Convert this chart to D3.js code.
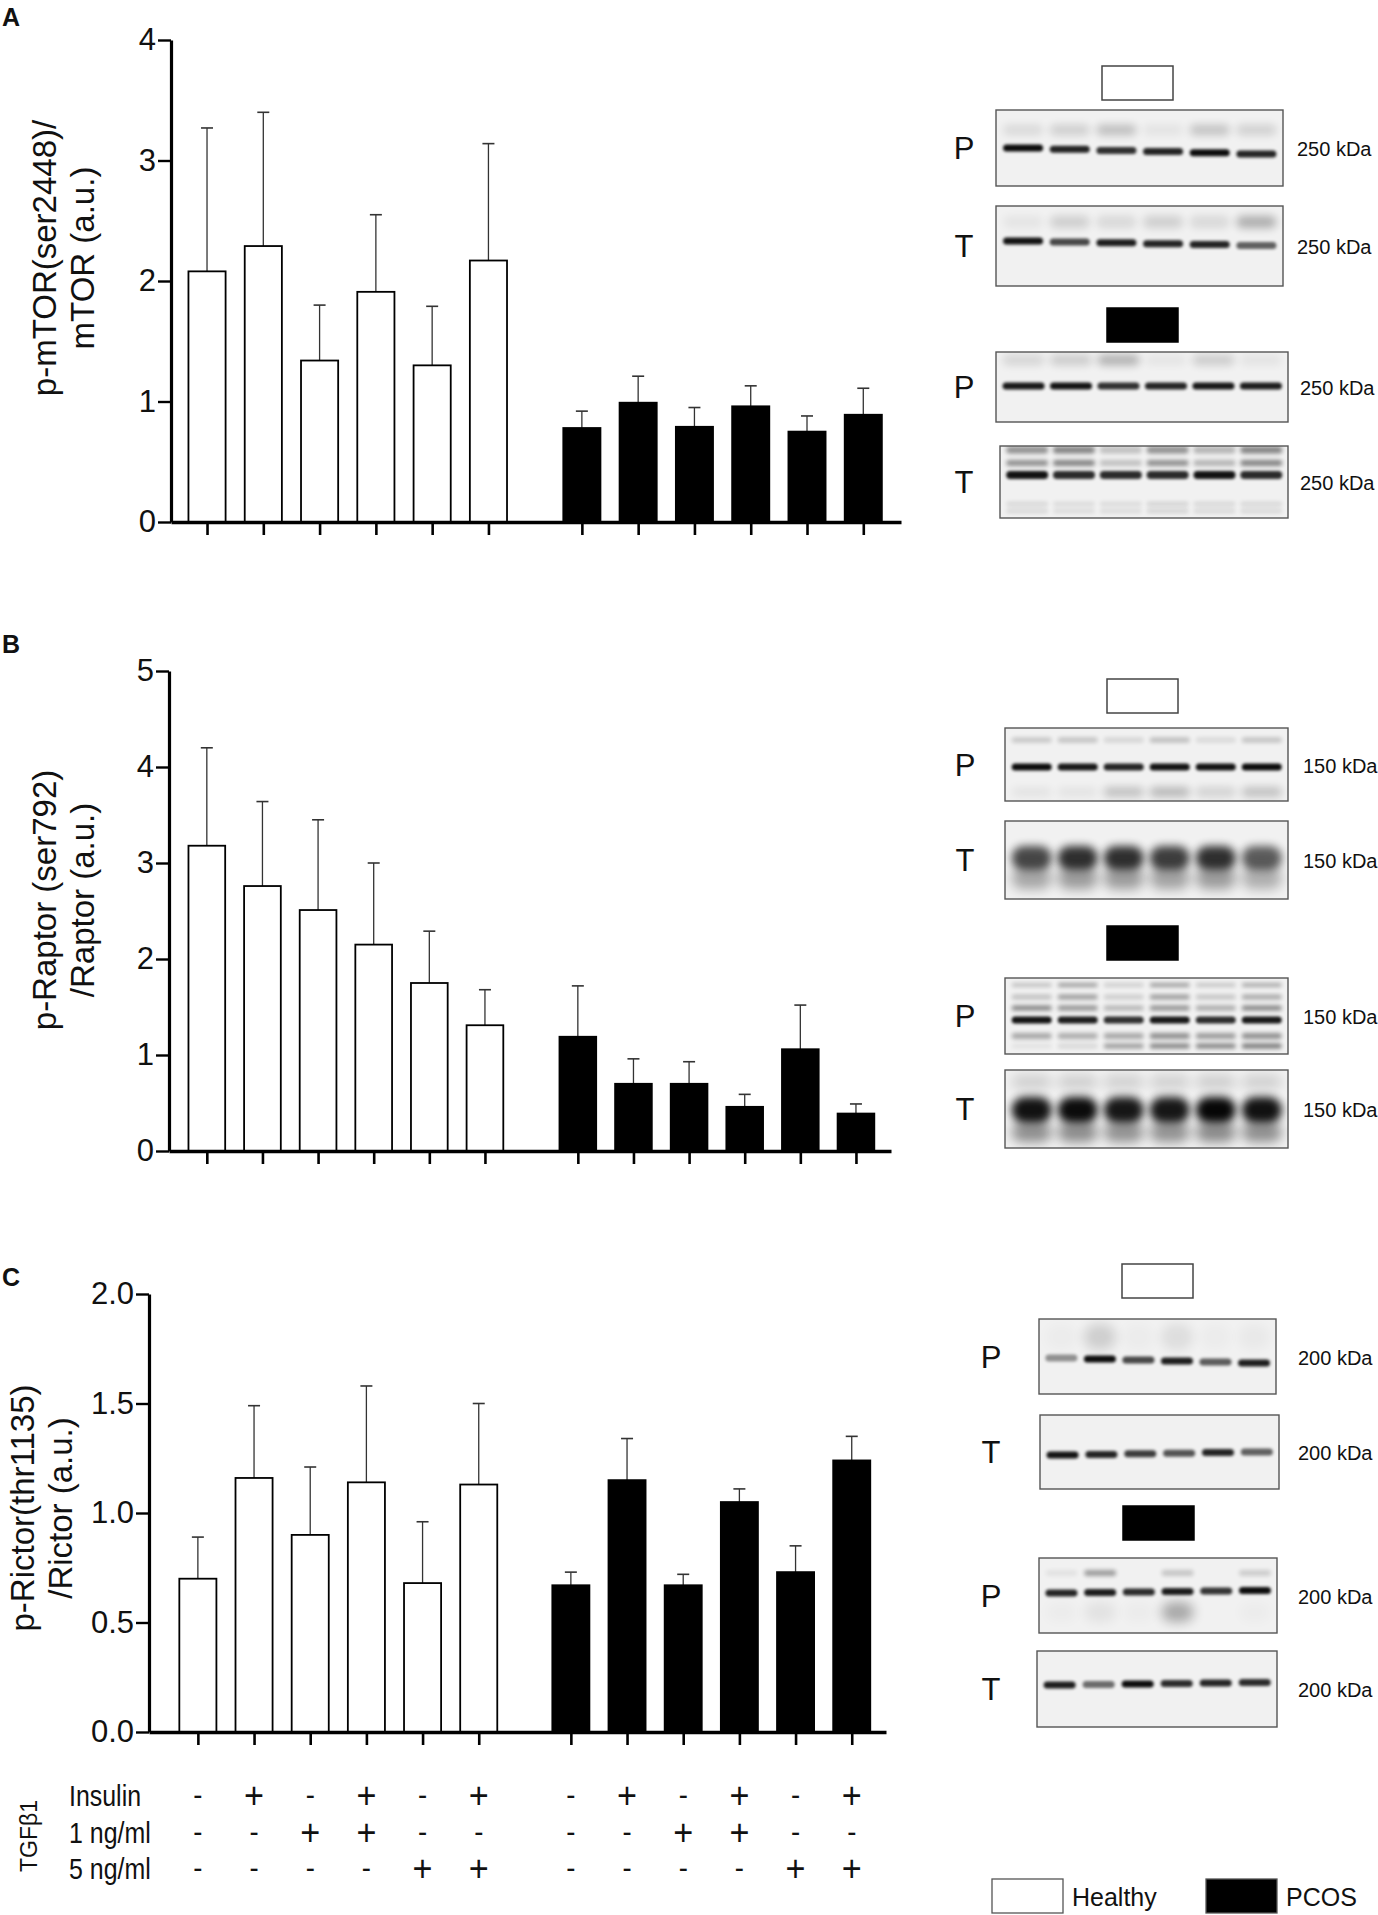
<!DOCTYPE html>
<html><head><meta charset="utf-8">
<script src="https://cdn.jsdelivr.net/npm/d3@7"></script>
<style>
body{margin:0;background:#fff}
text{font-family:"Liberation Sans",Arial,Helvetica,sans-serif;fill:#111}
</style>
</head><body><script>
// ---------------- DATA ----------------
const groups = ["Healthy","Healthy","Healthy","Healthy","Healthy","Healthy","PCOS","PCOS","PCOS","PCOS","PCOS","PCOS"];
const insulinRow = ["-","+","-","+","-","+","-","+","-","+","-","+"];
const tgf1Row    = ["-","-","+","+","-","-","-","-","+","+","-","-"];
const tgf5Row    = ["-","-","-","-","+","+","-","-","-","-","+","+"];
const rowLabels  = ["Insulin","1 ng/ml","5 ng/ml"];
const tgfLabel   = "TGFβ1";
const legendLabels = ["Healthy","PCOS"];

const mtorMean = [2.08, 2.29, 1.34, 1.91, 1.30, 2.17, 0.78, 0.99, 0.79, 0.96, 0.75, 0.89];
const mtorSem  = [1.19, 1.11, 0.46, 0.64, 0.49, 0.97, 0.14, 0.22, 0.16, 0.17, 0.13, 0.22];
const raptorMean = [3.18, 2.76, 2.51, 2.15, 1.75, 1.31, 1.19, 0.70, 0.70, 0.46, 1.06, 0.39];
const raptorSem  = [1.02, 0.88, 0.94, 0.85, 0.54, 0.37, 0.53, 0.26, 0.23, 0.13, 0.46, 0.10];
const rictorMean = [0.70, 1.16, 0.90, 1.14, 0.68, 1.13, 0.67, 1.15, 0.67, 1.05, 0.73, 1.24];
const rictorSem  = [0.19, 0.33, 0.31, 0.44, 0.28, 0.37, 0.06, 0.19, 0.05, 0.06, 0.12, 0.11];

const ticksA = [0,1,2,3,4];
const ticksB = [0,1,2,3,4,5];
const ticksC = [0,0.5,1.0,1.5,2.0];
const titleA = ["p-mTOR(ser2448)/","mTOR (a.u.)"];
const titleB = ["p-Raptor (ser792)","/Raptor (a.u.)"];
const titleC = ["p-Rictor(thr1135)","/Rictor (a.u.)"];
const kdaA = "250 kDa", kdaB = "150 kDa", kdaC = "200 kDa";

// western blot band intensities (per lane, 0..1)
const bandA_PH_main = [0.95,0.85,0.80,0.85,0.95,0.85];
const bandA_PH_up   = [0.10,0.15,0.22,0.06,0.20,0.14];
const bandA_TH_main = [0.92,0.70,0.88,0.85,0.85,0.60];
const bandA_TH_up   = [0.05,0.14,0.10,0.14,0.10,0.28];
const bandA_PP_main = [0.90,0.92,0.80,0.85,0.90,0.88];
const bandA_PP_up   = [0.12,0.16,0.28,0.05,0.16,0.06];
const bandA_TP_main = [0.92,0.82,0.82,0.82,0.92,0.82];
const bandA_TP_up   = [0.40,0.45,0.20,0.40,0.25,0.45];
const bandA_TP_low  = [0.12,0.10,0.10,0.14,0.12,0.12];

const bandB_PH_main = [0.95,0.90,0.85,0.92,0.92,0.95];
const bandB_PH_up   = [0.18,0.20,0.12,0.22,0.10,0.20];
const bandB_PH_low  = [0.06,0.06,0.22,0.26,0.14,0.22];
const bandB_TH_main = [0.70,0.80,0.80,0.74,0.80,0.62];
const bandB_PP_main = [0.92,0.88,0.80,0.90,0.82,0.90];
const bandB_PP_up1  = [0.45,0.40,0.25,0.40,0.30,0.45];
const bandB_PP_up2  = [0.20,0.35,0.15,0.35,0.18,0.30];
const bandB_PP_low1 = [0.30,0.28,0.30,0.40,0.35,0.40];
const bandB_PP_low2 = [0.06,0.10,0.35,0.45,0.45,0.50];
const bandB_TP_main = [0.92,0.95,0.90,0.90,0.97,0.92];

const bandC_PH_main = [0.40,0.95,0.70,0.88,0.62,0.88];
const bandC_TH_main = [0.92,0.85,0.75,0.65,0.85,0.60];
const bandC_PP_main = [0.85,0.88,0.82,0.88,0.78,0.95];
const bandC_PP_up   = [0.06,0.35,0.00,0.18,0.00,0.15];
const bandC_TP_main = [0.88,0.55,0.95,0.82,0.85,0.82];

// ---------------- LAYOUT ----------------
const W = 1378, H = 1915;
const svg = d3.select("body").append("svg").attr("width", W).attr("height", H);
const fillOf = g => g === "Healthy" ? "#ffffff" : "#000000";

const defs = svg.append("defs");
[1.4, 2.2, 4, 6].forEach((s, i) => {
  defs.append("filter").attr("id", "blur" + i).attr("x", "-30%").attr("y", "-100%")
    .attr("width", "160%").attr("height", "300%")
    .append("feGaussianBlur").attr("stdDeviation", s);
});

function drawPanel(cfg) {
  const g = svg.append("g");
  const x = d3.scaleLinear().domain([cfg.u0, cfg.u1]).range([cfg.x0, cfg.x1]);
  const y = d3.scaleLinear().domain([0, cfg.max]).range([cfg.yBase, cfg.yTop]);
  const pos = i => i < 6 ? i : i + cfg.gap;
  const bw = x(0.66) - x(0);
  const idx = d3.range(cfg.mean.length);

  // error bars
  g.selectAll("line.err").data(idx).join("line")
    .attr("x1", i => x(pos(i))).attr("x2", i => x(pos(i)))
    .attr("y1", i => y(cfg.mean[i])).attr("y2", i => y(cfg.mean[i] + cfg.sem[i]))
    .attr("stroke", "#333").attr("stroke-width", 1.3);
  g.selectAll("line.cap").data(idx).join("line")
    .attr("x1", i => x(pos(i)) - 6).attr("x2", i => x(pos(i)) + 6)
    .attr("y1", i => y(cfg.mean[i] + cfg.sem[i])).attr("y2", i => y(cfg.mean[i] + cfg.sem[i]))
    .attr("stroke", "#333").attr("stroke-width", 1.6);
  // bars
  g.selectAll("rect.bar").data(idx).join("rect")
    .attr("x", i => x(pos(i)) - bw / 2).attr("width", bw)
    .attr("y", i => y(cfg.mean[i])).attr("height", i => y(0) - y(cfg.mean[i]))
    .attr("fill", i => fillOf(groups[i])).attr("stroke", "#000").attr("stroke-width", 1.8);

  // y axis
  const ya = g.append("g").attr("transform", `translate(${cfg.x0},0)`)
    .call(d3.axisLeft(y).tickValues(cfg.ticks).tickFormat(cfg.fmt).tickSize(13).tickSizeOuter(0).tickPadding(2));
  ya.select(".domain").attr("stroke", "#000").attr("stroke-width", 3.2);
  ya.selectAll(".tick line").attr("stroke", "#000").attr("stroke-width", 2.4);
  ya.selectAll(".tick text").attr("font-size", 31).attr("fill", "#111")
    .attr("font-family", '"Liberation Sans",Arial,sans-serif');

  // x axis
  const xa = g.append("g").attr("transform", `translate(0,${cfg.yBase})`)
    .call(d3.axisBottom(x).tickValues(idx.map(pos)).tickFormat("").tickSize(13).tickSizeOuter(0));
  xa.select(".domain").attr("stroke", "#000").attr("stroke-width", 3.6);
  xa.selectAll(".tick line").attr("stroke", "#000").attr("stroke-width", 2.6);

  // title
  cfg.title.forEach((t, k) => {
    svg.append("text")
      .attr("transform", `translate(${cfg.titleX[k]},${cfg.titleY}) rotate(-90)`)
      .attr("text-anchor", "middle").attr("font-size", 33).text(t);
  });
  // panel letter
  svg.append("text").attr("x", 2).attr("y", cfg.letterY).attr("font-size", 25)
    .attr("font-weight", "bold").text(cfg.letter);
  return { x, pos };
}

const pA = drawPanel({ letter: "A", letterY: 26, mean: mtorMean, sem: mtorSem, max: 4, ticks: ticksA, fmt: d3.format("d"),
  x0: 171, x1: 901, u0: -0.64, u1: 12.33, gap: 0.66, yBase: 522, yTop: 40,
  title: titleA, titleX: [56, 94], titleY: 258 });
const pB = drawPanel({ letter: "B", letterY: 653, mean: raptorMean, sem: raptorSem, max: 5, ticks: ticksB, fmt: d3.format("d"),
  x0: 169, x1: 891, u0: -0.68, u1: 12.30, gap: 0.67, yBase: 1151, yTop: 671,
  title: titleB, titleX: [56, 94], titleY: 900 });
const pC = drawPanel({ letter: "C", letterY: 1286, mean: rictorMean, sem: rictorSem, max: 2, ticks: ticksC, fmt: d3.format(".1f"),
  x0: 149, x1: 886, u0: -0.87, u1: 12.25, gap: 0.64, yBase: 1732, yTop: 1294,
  title: titleC, titleX: [34, 72], titleY: 1508 });

// condition table under panel C
const rowsY = [1796, 1833, 1869];
[insulinRow, tgf1Row, tgf5Row].forEach((row, r) => {
  svg.append("text").attr("transform", `translate(69,${rowsY[r] + 10}) scale(0.86,1)`)
    .attr("font-size", 29).text(rowLabels[r]);
  svg.selectAll(null).data(row).join("text")
    .attr("transform", (d, i) => `translate(${pC.x(pC.pos(i))},${rowsY[r] + (d === "+" ? 12 : 9)}) scale(0.95,1)`)
    .attr("text-anchor", "middle").attr("font-size", d => d === "+" ? 36 : 29).text(d => d);
});
svg.append("text").attr("transform", "translate(37,1836) rotate(-90)").attr("text-anchor", "middle")
  .attr("font-size", 23).text(tgfLabel);

// legend
const legX = [992, 1206];
legendLabels.forEach((l, k) => {
  svg.append("rect").attr("x", legX[k]).attr("y", 1879).attr("width", 71).attr("height", 34)
    .attr("fill", fillOf(l)).attr("stroke", "#555").attr("stroke-width", 1.3);
  svg.append("text").attr("x", legX[k] + 80).attr("y", 1906).attr("font-size", 25).text(l);
});

// ---------------- BLOTS ----------------
let clipN = 0;
function gel(box, label, labelX, kda, kdaX, bands, laneW) {
  const [bx, by, bw, bh] = box;
  const id = "clip" + (clipN++);
  defs.append("clipPath").attr("id", id).append("rect").attr("x", bx).attr("y", by).attr("width", bw).attr("height", bh);
  const g = svg.append("g");
  g.append("rect").attr("x", bx).attr("y", by).attr("width", bw).attr("height", bh).attr("fill", "#f1f1f1");
  const inner = g.append("g").attr("clip-path", `url(#${id})`);
  const sp = bw / 6.15;
  const lanes = d3.range(6).map(k => bx + sp * 0.08 + (k + 0.5) * sp);
  bands.forEach(b => {
    inner.selectAll(null).data(b.k).join("rect")
      .attr("x", (d, k) => lanes[k] - laneW / 2).attr("width", laneW)
      .attr("y", (d, k) => b.cy + (b.slope || 0) * k - b.h / 2).attr("height", b.h)
      .attr("rx", b.h / 2)
      .attr("fill", "#000").attr("opacity", d => d)
      .attr("filter", `url(#blur${b.blur || 0})`);
  });
  g.append("rect").attr("x", bx).attr("y", by).attr("width", bw).attr("height", bh)
    .attr("fill", "none").attr("stroke", "#555").attr("stroke-width", 1.4);
  svg.append("text").attr("x", labelX).attr("y", by + bh / 2 + 11).attr("text-anchor", "middle")
    .attr("font-size", 31).text(label);
  svg.append("text").attr("x", kdaX).attr("y", by + bh / 2 + 8).attr("font-size", 20).text(kda);
}
function marker(x, y, fill) {
  svg.append("rect").attr("x", x).attr("y", y).attr("width", 71).attr("height", 34)
    .attr("fill", fill).attr("stroke", fill === "#000000" ? "#000" : "#444").attr("stroke-width", 1.5);
}

// Panel A blots
marker(1102, 66, fillOf("Healthy"));
gel([996, 110, 287, 76], "P", 964, kdaA, 1297, [
  { cy: 130, h: 10, k: bandA_PH_up, blur: 2 },
  { cy: 148, h: 7, k: bandA_PH_main, blur: 0, slope: 1.2 }], 40);
gel([996, 206, 287, 80], "T", 964, kdaA, 1297, [
  { cy: 222, h: 12, k: bandA_TH_up, blur: 2 },
  { cy: 241, h: 7, k: bandA_TH_main, blur: 0, slope: 0.9 }], 40);
marker(1107, 308, fillOf("PCOS"));
gel([996, 352, 292, 70], "P", 964, kdaA, 1300, [
  { cy: 360, h: 10, k: bandA_PP_up, blur: 2 },
  { cy: 386, h: 7, k: bandA_PP_main, blur: 0 }], 42);
gel([1000, 446, 288, 72], "T", 964, kdaA, 1300, [
  { cy: 450, h: 7, k: bandA_TP_up, blur: 1 },
  { cy: 463, h: 6, k: bandA_TP_up, blur: 1 },
  { cy: 475, h: 8, k: bandA_TP_main, blur: 0 },
  { cy: 504, h: 4, k: bandA_TP_low, blur: 1 },
  { cy: 511, h: 4, k: bandA_TP_low, blur: 1 }], 42);

// Panel B blots
marker(1107, 679, fillOf("Healthy"));
gel([1005, 728, 283, 73], "P", 965, kdaB, 1303, [
  { cy: 740, h: 5, k: bandB_PH_up, blur: 1 },
  { cy: 767, h: 7, k: bandB_PH_main, blur: 0 },
  { cy: 792, h: 9, k: bandB_PH_low, blur: 2 }], 40);
gel([1005, 821, 283, 78], "T", 965, kdaB, 1303, [
  { cy: 858, h: 24, k: bandB_TH_main, blur: 2 },
  { cy: 878, h: 22, k: bandB_TH_main.map(v => v * 0.45), blur: 3 }], 40);
marker(1107, 926, fillOf("PCOS"));
gel([1005, 978, 283, 76], "P", 965, kdaB, 1303, [
  { cy: 985, h: 4, k: bandB_PP_up2, blur: 1 },
  { cy: 997, h: 5, k: bandB_PP_up2, blur: 1 },
  { cy: 1008, h: 5, k: bandB_PP_up1, blur: 1 },
  { cy: 1020, h: 7, k: bandB_PP_main, blur: 0 },
  { cy: 1036, h: 6, k: bandB_PP_low1, blur: 1 },
  { cy: 1046, h: 5, k: bandB_PP_low2, blur: 1 }], 40);
gel([1005, 1070, 283, 78], "T", 965, kdaB, 1303, [
  { cy: 1110, h: 26, k: bandB_TP_main, blur: 2 },
  { cy: 1132, h: 20, k: bandB_TP_main.map(v => v * 0.45), blur: 3 },
  { cy: 1082, h: 14, k: bandB_TP_main.map(v => v * 0.15), blur: 3 }], 40);

// Panel C blots
marker(1122, 1264, fillOf("Healthy"));
gel([1039, 1319, 237, 75], "P", 991, kdaC, 1298, [
  { cy: 1337, h: 26, k: [0.02, 0.14, 0.02, 0.08, 0.02, 0.03], blur: 3 },
  { cy: 1358, h: 7, k: bandC_PH_main, blur: 0, slope: 1.0 }], 32);
gel([1040, 1415, 239, 74], "T", 991, kdaC, 1298, [
  { cy: 1455, h: 7, k: bandC_TH_main, blur: 0, slope: -0.6 }], 32);
marker(1123, 1506, fillOf("PCOS"));
gel([1039, 1558, 238, 75], "P", 991, kdaC, 1298, [
  { cy: 1573, h: 6, k: bandC_PP_up, blur: 1 },
  { cy: 1593, h: 7, k: bandC_PP_main, blur: 0, slope: -0.5 },
  { cy: 1612, h: 20, k: [0.02, 0.06, 0.02, 0.30, 0.00, 0.02], blur: 3 }], 32);
gel([1037, 1651, 240, 76], "T", 991, kdaC, 1298, [
  { cy: 1685, h: 7, k: bandC_TP_main, blur: 0, slope: -0.5 }], 32);
</script></body></html>
